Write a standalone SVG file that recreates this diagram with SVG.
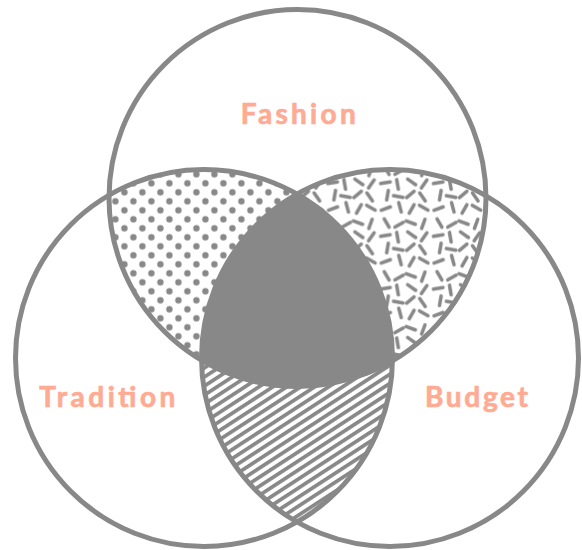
<svg xmlns="http://www.w3.org/2000/svg" width="582" height="550" viewBox="0 0 582 550">
  <style>
    .ring { fill: none; stroke: #888888; stroke-width: 5; }
    .label { font-family: "Lato", "Liberation Sans", sans-serif; font-weight: 700; font-size: 28px; fill: #FFAB94; stroke: #FFAB94; stroke-width: 0.7; }
    .dash { stroke: #888888; stroke-width: 4; stroke-linecap: round; }
  </style>
  <defs>
    <clipPath id="cF"><circle cx="297.5" cy="198" r="188.5"/></clipPath>
    <clipPath id="cT"><circle cx="204" cy="358" r="188.5"/></clipPath>
    <clipPath id="cB"><circle cx="390" cy="358" r="188.5"/></clipPath>
    <pattern id="dots" patternUnits="userSpaceOnUse" x="2.9" y="-1.2" width="18" height="18">
      <circle cx="4.5" cy="4.5" r="3.2" fill="#888888"/>
      <circle cx="13.5" cy="13.5" r="3.2" fill="#888888"/>
    </pattern>
    <pattern id="stripes" patternUnits="userSpaceOnUse" width="20" height="7.6" patternTransform="rotate(-33)">
      <rect x="0" y="0" width="20" height="3.7" fill="#888888"/>
    </pattern>
    <pattern id="confetti" patternUnits="userSpaceOnUse" width="60" height="60" x="10" y="5" patternTransform="scale(0.88)">
      <g class="dash">
        <line x1="6.67" y1="3.70" x2="12.17" y2="13.24"/>
        <line x1="28.38" y1="7.62" x2="18.84" y2="13.12"/>
        <line x1="31.68" y1="6.12" x2="42.02" y2="9.88"/>
        <line x1="52.92" y1="4.25" x2="49.16" y2="14.59"/>
        <line x1="13.42" y1="21.71" x2="2.58" y2="23.61"/>
        <line x1="20.77" y1="19.14" x2="22.67" y2="29.98"/>
        <line x1="33.29" y1="18.57" x2="42.31" y2="24.87"/>
        <line x1="55.14" y1="19.57" x2="48.84" y2="28.59"/>
        <line x1="11.32" y1="31.43" x2="9.42" y2="42.27"/>
        <line x1="17.24" y1="37.32" x2="28.08" y2="39.22"/>
        <line x1="40.59" y1="32.38" x2="32.17" y2="39.44"/>
        <line x1="46.95" y1="34.24" x2="53.25" y2="43.26"/>
        <line x1="13.64" y1="50.11" x2="3.30" y2="53.87"/>
        <line x1="23.14" y1="45.26" x2="25.98" y2="55.88"/>
        <line x1="40.55" y1="47.69" x2="35.05" y2="57.23"/>
        <line x1="46.75" y1="48.29" x2="56.29" y2="53.79"/>
      </g>
    </pattern>
  </defs>

  <rect width="582" height="550" fill="#ffffff"/>

  <g id="overlaps">
    <g id="fashion-tradition" clip-path="url(#cF)">
      <rect x="0" y="0" width="582" height="550" fill="url(#dots)" clip-path="url(#cT)"/>
    </g>
    <g id="fashion-budget" clip-path="url(#cF)">
      <rect x="0" y="0" width="582" height="550" fill="url(#confetti)" clip-path="url(#cB)"/>
    </g>
    <g id="tradition-budget" clip-path="url(#cT)">
      <rect x="0" y="0" width="582" height="550" fill="url(#stripes)" clip-path="url(#cB)"/>
    </g>
    <g id="all-three" clip-path="url(#cF)">
      <g clip-path="url(#cT)">
        <rect x="0" y="0" width="582" height="550" fill="#888888" clip-path="url(#cB)"/>
      </g>
    </g>
  </g>

  <g id="fashion">
    <circle class="ring" cx="297.5" cy="198" r="188.5"/>
    <text class="label" x="240.7" y="124.3" textLength="115" lengthAdjust="spacing">Fashion</text>
  </g>
  <g id="tradition">
    <circle class="ring" cx="204" cy="358" r="188.5"/>
    <text class="label" x="39.3" y="407.3" textLength="136" lengthAdjust="spacing">Tradition</text>
  </g>
  <g id="budget">
    <circle class="ring" cx="390" cy="358" r="188.5"/>
    <text class="label" x="425" y="407.3" textLength="103" lengthAdjust="spacing">Budget</text>
  </g>
</svg>
